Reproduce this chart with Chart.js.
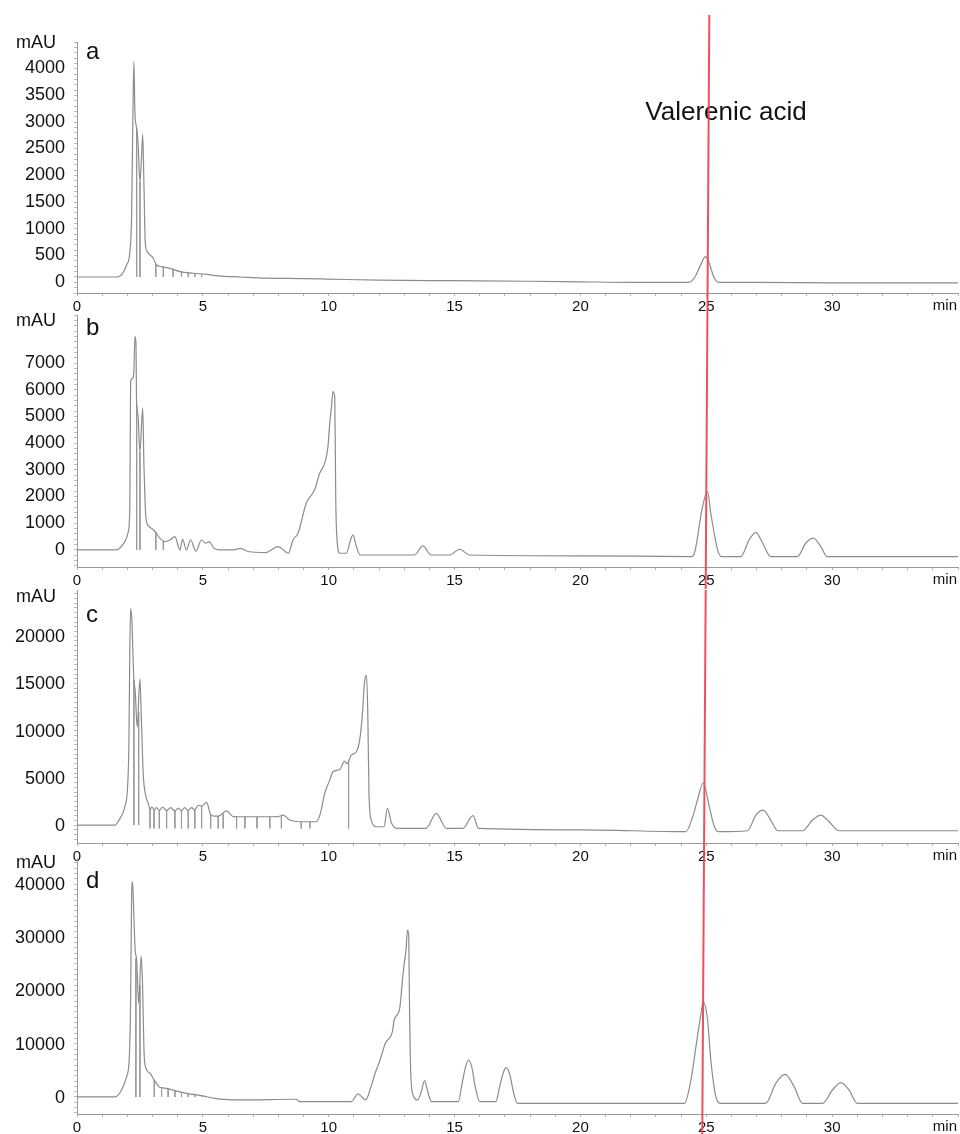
<!DOCTYPE html>
<html><head><meta charset="utf-8">
<script src="https://cdn.jsdelivr.net/npm/chart.js@4.4.1/dist/chart.umd.min.js"></script>
<style>
html,body{margin:0;padding:0;background:#fff;width:960px;height:1134px;overflow:hidden;position:relative}
canvas{position:absolute;left:0}
</style></head><body>
<canvas id="ca"></canvas><canvas id="cb"></canvas><canvas id="cc"></canvas><canvas id="cd"></canvas>
<script>
// ---------------- data (retention time in min, signal in mAU) ----------------
const xTickLabels = [0, 5, 10, 15, 20, 25, 30];

const timesA = [0,1.55,1.8,1.97,2.10,2.17,2.21,2.26,2.30,2.37,2.43,2.50,2.56,2.61,2.66,2.71,2.79,3.03,3.16,3.36,3.69,4.09,4.62,5.15,5.6,6.5,7.5,9,10,12,15,18,20,22,24.3,24.55,24.8,24.96,25.1,25.3,25.5,27,30,35];
const valuesA = [0,0,60,224,473,1160,2650,4040,3090,2785,2470,1780,2200,2670,1720,660,473,350,224,193,162,100,70,50,20,0,-20,-30,-40,-60,-70,-80,-90,-100,-100,0,250,380,280,0,-100,-100,-110,-110];
const dropTimesA = [2.37,2.50,3.13,3.43,3.82,4.15,4.42,4.68,4.95];
const dropTopsA  = [2785,1780,230,180,150,100,80,65,55];
const dropBaseA  = [0,0,0,0,0,0,0,0,0];
const yLabelsA = [0,500,1000,1500,2000,2500,3000,3500,4000];

const timesB = [0,1.57,1.90,2.04,2.10,2.13,2.21,2.26,2.30,2.34,2.37,2.42,2.50,2.61,2.66,2.74,2.87,3.10,3.29,3.49,3.70,3.89,4.09,4.19,4.35,4.51,4.72,4.95,5.10,5.25,5.45,5.70,6.20,6.50,6.80,7.50,7.99,8.40,8.58,8.78,9.11,9.44,9.64,9.84,9.97,10.04,10.11,10.17,10.24,10.28,10.33,10.44,10.70,10.83,10.96,11.10,11.25,13.40,13.74,14.07,14.80,15.20,15.60,20,24.40,24.52,24.85,25.05,25.18,25.45,25.60,26.37,26.70,26.97,27.24,27.56,28.62,28.95,29.25,29.55,29.80,35];
const valuesB = [0,0,312,690,1685,6300,6430,6680,7990,7800,5430,5060,3680,5310,3180,1190,870,690,440,310,380,500,0,400,0,380,-50,380,250,300,50,0,0,60,-60,-100,125,-125,375,625,1750,2250,2870,3250,3870,4740,5370,5930,5740,1870,375,-125,-125,250,560,125,-190,-190,150,-190,-190,25,-190,-220,-250,-150,1620,2180,1370,0,-250,-250,375,660,250,-250,-250,250,440,125,-250,-250];
const dropTimesB = [2.37,2.50,3.13,3.43];
const dropTopsB  = [5430,3680,670,330];
const dropBaseB  = [0,0,0,0];
const yLabelsB = [0,1000,2000,3000,4000,5000,6000,7000];

const timesC = [0,1.51,1.71,1.90,2.01,2.06,2.10,2.13,2.18,2.21,2.26,2.31,2.39,2.50,2.55,2.63,2.74,2.83,2.90,2.98,3.06,3.16,3.27,3.40,3.56,3.72,3.89,4.02,4.15,4.28,4.42,4.55,4.68,4.82,4.95,5.15,5.31,5.45,5.61,5.72,5.94,6.20,6.67,7.00,7.50,8.00,8.19,8.45,8.85,9.51,9.67,9.84,10.04,10.17,10.44,10.63,10.72,10.90,11.10,11.23,11.33,11.43,11.50,11.55,11.60,11.69,11.90,12.20,12.33,12.50,12.70,13.87,14.27,14.67,15.33,15.73,15.95,20,24.19,24.46,24.65,24.88,25.12,25.32,25.50,26.64,26.97,27.26,27.56,27.84,28.83,29.22,29.55,29.88,30.28,35];
const valuesC = [0,0,710,1940,4060,8290,18870,22930,21700,19230,15340,14290,10400,15500,11820,5470,3000,2300,1700,1900,1600,1850,1550,1900,1550,1850,1500,1800,1500,1850,1550,1850,1600,2100,2000,2400,1100,950,950,1100,1500,900,880,880,880,900,1060,530,350,350,1240,3350,4760,5640,5890,6770,6500,7400,7760,9000,11460,15340,15870,12170,3350,530,-180,-180,1770,180,-350,-350,1240,-350,-350,990,-350,-500,-700,880,2650,4480,1940,-180,-700,-600,1060,1590,530,-600,-600,530,1060,350,-600,-600];
const dropTimesC = [2.26,2.45,2.90,3.06,3.27,3.56,3.89,4.15,4.42,4.68,4.95,5.31,5.61,5.81,6.34,6.67,7.15,7.66,8.12,8.91,9.25,10.79];
const dropTopsC  = [15340,12000,1700,1600,1550,1550,1500,1500,1550,1600,2000,1100,950,1200,890,880,880,880,950,350,350,6800];
const dropBaseC  = [0,0,-350,-350,-350,-350,-350,-350,-350,-350,-350,-350,-350,-350,-350,-350,-350,-350,-350,-350,-350,-350];
const yLabelsC = [0,5000,10000,15000,20000];

const timesD = [0,1.51,1.77,1.97,2.08,2.13,2.17,2.21,2.26,2.31,2.37,2.45,2.55,2.61,2.66,2.74,2.90,3.07,3.29,3.56,3.89,4.35,5.01,5.45,6.58,8.70,8.85,10.90,11.16,11.47,11.68,11.82,12.04,12.25,12.53,12.60,12.82,12.93,13.00,13.07,13.13,13.18,13.21,13.27,13.38,13.53,13.66,13.81,13.95,14.09,15.15,15.30,15.44,15.55,15.68,15.82,16.00,16.64,16.79,16.93,17.04,17.18,17.35,17.49,24.13,24.39,24.59,24.79,24.88,25.05,25.18,25.38,25.58,27.36,27.76,28.13,28.49,28.82,29.62,30.01,30.35,30.67,31.00,35];
const valuesD = [0,0,1310,3820,7570,18220,37620,40430,33860,27600,25730,17600,26480,20090,8830,5390,4450,3190,1820,1630,1190,690,190,-250,-560,-430,-880,-880,560,-560,1940,4130,6950,10080,12270,14460,16650,21970,25110,27600,31360,30100,16960,3190,60,-560,690,3070,690,-880,-880,2570,5700,6950,5700,1940,-880,-880,1940,4450,5500,4450,690,-1190,-1190,3190,9450,15720,17900,14460,6950,60,-1190,-1190,2570,4260,1940,-1190,-1190,1310,2700,1310,-1190,-1190];
const dropTimesD = [2.34,2.50,3.07,3.36,3.62,3.89,4.15,4.42,4.68,4.95];
const dropTopsD  = [26000,21000,3190,1800,1550,1190,900,650,450,250];
const dropBaseD  = [0,0,0,0,0,0,0,0,0,0];
const yLabelsD = [0,10000,20000,30000,40000];

const markerLabel = "Valerenic acid";
const markerTimeTop = 25.12, markerTimeBottom = 24.84;   // red reference line (slightly tilted in source)

// ---------------- layout / style ----------------
const FONT = "'Liberation Sans', Arial, Helvetica, sans-serif";
Chart.defaults.font.family = FONT;
Chart.defaults.color = '#111';
const LINE = '#8c8c8c';
const PAGE_RED_TOP = 15, PAGE_H = 1134;

const panels = [
  {id:'ca', letter:'a', t:timesA, v:valuesA, dt:dropTimesA, dtop:dropTopsA, dbase:dropBaseA, labels:yLabelsA,
   min:-300, max:4400, step:100, axisTop:42, axisBottom:293, padTop:42, xH:22, redFrom:PAGE_RED_TOP, redTo:315, mauDy:1, letDy:17, labelOffset:5, showMarker:true},
  {id:'cb', letter:'b', t:timesB, v:valuesB, dt:dropTimesB, dtop:dropTopsB, dbase:dropBaseB, labels:yLabelsB,
   min:-640, max:8800, step:200, axisTop:315, axisBottom:567, padTop:30, xH:22, redFrom:315, redTo:590, mauDy:6, letDy:20, labelOffset:0},
  {id:'cc', letter:'c', t:timesC, v:valuesC, dt:dropTimesC, dtop:dropTopsC, dbase:dropBaseC, labels:yLabelsC,
   min:-1900, max:24900, step:500, axisTop:590, axisBottom:843, padTop:30, xH:22, redFrom:590, redTo:858, mauDy:7, letDy:32, labelOffset:1},
  {id:'cd', letter:'d', t:timesD, v:valuesD, dt:dropTimesD, dtop:dropTopsD, dbase:dropBaseD, labels:yLabelsD,
   min:-3200, max:44900, step:1000, axisTop:858, axisBottom:1114, padTop:30, xH:20, redFrom:858, redTo:PAGE_H, mauDy:5, letDy:30, labelOffset:1}
];

const decoPlugin = {
  id:'deco',
  afterDatasetsDraw(chart, args, o) {
    const ctx = chart.ctx, ca = chart.chartArea, xs = chart.scales.x;
    ctx.save();
    ctx.fillStyle = '#111';
    ctx.font = '18px ' + FONT;
    ctx.textAlign = 'center'; ctx.textBaseline = 'middle';
    ctx.fillText('mAU', 36, ca.top + o.mauDy);
    ctx.font = '24px ' + FONT;
    ctx.textAlign = 'left'; ctx.textBaseline = 'alphabetic';
    ctx.fillText(o.letter, 86, ca.top + o.letDy);
    ctx.font = '15px ' + FONT;
    ctx.textAlign = 'right'; ctx.textBaseline = 'top';
    ctx.fillText('min', ca.right - 1, ca.bottom + 5);
    if (o.showMarker) {
      ctx.font = '26px ' + FONT;
      ctx.textAlign = 'center'; ctx.textBaseline = 'middle';
      ctx.fillText(markerLabel, 726, 113 - o.canvasTop);
    }
    // red reference line through all panels
    const tAt = y => markerTimeTop + (markerTimeBottom - markerTimeTop) * (y - PAGE_RED_TOP) / (PAGE_H - PAGE_RED_TOP);
    ctx.strokeStyle = 'rgba(238,70,85,0.95)';
    ctx.lineWidth = 2;
    ctx.beginPath();
    ctx.moveTo(xs.getPixelForValue(tAt(o.redFrom)), o.redFrom - o.canvasTop);
    ctx.lineTo(xs.getPixelForValue(tAt(o.redTo)), o.redTo - o.canvasTop);
    ctx.stroke();
    ctx.restore();
  }
};

panels.forEach(p => {
  const cv = document.getElementById(p.id);
  const canvasTop = p.axisTop - p.padTop;
  const h = p.padTop + (p.axisBottom - p.axisTop) + p.xH;
  cv.width = 960; cv.height = h;
  cv.style.top = canvasTop + 'px';
  cv.style.width = '960px'; cv.style.height = h + 'px';

  const trace = p.t.map((t, i) => ({x: t, y: p.v[i]}));
  const drops = [];
  p.dt.forEach((t, i) => {
    drops.push({x: t, y: p.dtop[i]}, {x: t, y: p.dbase[i]}, {x: t, y: null});
  });

  new Chart(cv, {
    type: 'line',
    data: {datasets: [
      {data: trace, borderColor: LINE, borderWidth: 1.2, pointRadius: 0, cubicInterpolationMode: 'monotone', fill: false},
      {data: drops, borderColor: '#9a9a9a', borderWidth: 1, pointRadius: 0, tension: 0, spanGaps: false, fill: false}
    ]},
    options: {
      responsive: false, animation: false, devicePixelRatio: 1,
      events: [],
      layout: {padding: {top: p.padTop, left: 0, right: 1, bottom: 0}},
      plugins: {legend: {display: false}, tooltip: {enabled: false},
        deco: {letter: p.letter, mauDy: p.mauDy, letDy: p.letDy, canvasTop: canvasTop,
               redFrom: p.redFrom, redTo: p.redTo, showMarker: !!p.showMarker}},
      scales: {
        x: {type: 'linear', min: 0, max: 35, position: 'bottom',
            afterBuildTicks: s => { const a = []; for (let v = 0; v <= 35; v++) a.push({value: v}); s.ticks = a; },
            afterFit: s => { s.height = p.xH; },
            ticks: {autoSkip: false, maxRotation: 0, minRotation: 0, padding: 2, color: '#111',
                    font: {size: 15}, callback: v => xTickLabels.includes(v) ? String(v) : ''},
            grid: {drawOnChartArea: false, drawTicks: true, tickLength: 3, color: '#b0b0b0'},
            border: {display: true, color: '#9a9a9a', width: 1}},
        y: {type: 'linear', min: p.min, max: p.max, position: 'left',
            afterBuildTicks: s => { const a = []; const st = Math.ceil(p.min / p.step) * p.step;
              for (let v = st; v <= p.max; v += p.step) a.push({value: v}); s.ticks = a; },
            afterFit: s => { s.width = 77; },
            ticks: {autoSkip: false, padding: 9, color: '#111', font: {size: 18}, labelOffset: p.labelOffset,
                    callback: v => p.labels.includes(v) ? String(v) : ''},
            grid: {drawOnChartArea: false, drawTicks: true, tickLength: 3, color: '#b8b8b8'},
            border: {display: true, color: '#9a9a9a', width: 1}}
      }
    },
    plugins: [decoPlugin]
  });
});
</script>
</body></html>
